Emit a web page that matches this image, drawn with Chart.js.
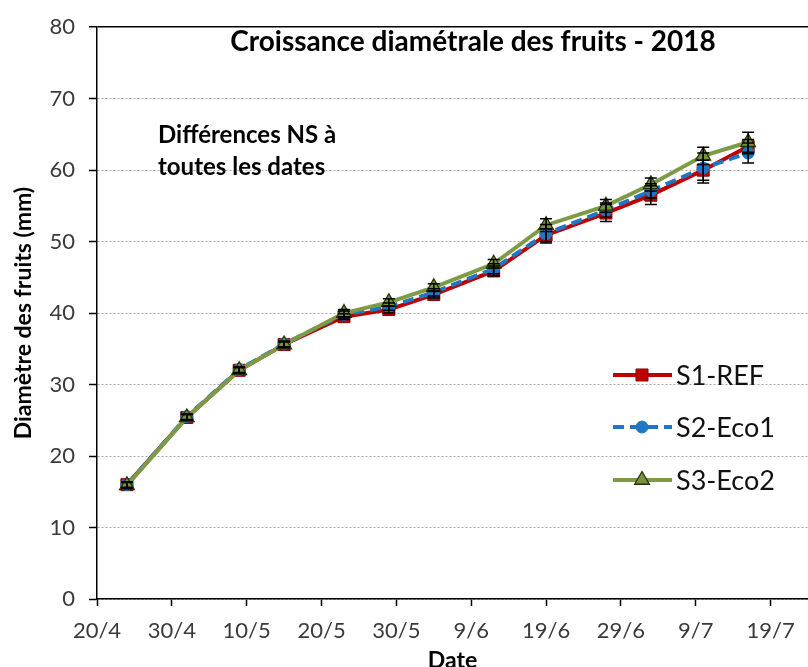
<!DOCTYPE html>
<html>
<head>
<meta charset="utf-8">
<script src="https://cdn.jsdelivr.net/npm/chart.js@4.4.1/dist/chart.umd.min.js"></script>
<style>
  html, body { margin: 0; padding: 0; background: #fff; overflow: hidden; }
  #wrap { width: 808px; height: 667px; position: relative; }
</style>
</head>
<body>
<div id="wrap"><canvas id="fruitChart"></canvas></div>
<script>
// Sampling dates (2018) and tick labels
const dates = ['24/4', '2/5', '9/5', '15/5', '23/5', '29/5', '4/6', '12/6', '19/6', '27/6', '3/7', '10/7', '16/7'];
const xTickLabels = ['20/4', '30/4', '10/5', '20/5', '30/5', '9/6', '19/6', '29/6', '9/7', '19/7'];

// Mean fruit diameter (mm)
const s1Ref = [16.0, 25.4, 32.0, 35.6, 39.5, 40.5, 42.6, 45.9, 50.9, 54.0, 56.5, 60.0, 63.3];
const s2Eco1 = [16.0, 25.5, 32.1, 35.7, 39.8, 40.9, 42.9, 46.2, 51.1, 54.4, 57.1, 60.3, 62.4];
const s3Eco2 = [15.9, 25.4, 32.0, 35.6, 40.0, 41.5, 43.6, 46.9, 52.3, 55.0, 58.0, 62.0, 63.9];

// Error bars (+/- mm)
const errS1 = [0.4, 0.4, 0.4, 0.4, 0.4, 0.5, 0.5, 0.7, 0.9, 1.2, 1.3, 1.4, 1.0];
const errS2 = [0.4, 0.4, 0.4, 0.4, 0.5, 0.5, 0.5, 0.7, 1.3, 1.0, 1.0, 2.1, 1.4];
const errS3 = [0.4, 0.4, 0.4, 0.4, 0.5, 0.5, 0.5, 0.6, 0.9, 0.9, 0.9, 1.2, 1.4];

// days since 20/4
const start = Date.UTC(2018, 3, 20);
const dayOf = (s) => {
    const [d, m] = s.split('/').map(Number);
    return (Date.UTC(2018, m - 1, d) - start) / 86400000;
};
const xs = dates.map(dayOf);
const pts = (arr) => arr.map((v, i) => ({ x: xs[i], y: v }));

const font = 'Lato, "Open Sans", sans-serif';
const colors = {
    red: '#c00000',
    blue: '#1f77c4',
    green: '#7d9a45',
    tick: '#3a3a3a',
    grid: '#a8a8a8'
};

const errorBars = {
    id: 'errorBars',
    afterDatasetsDraw(chart) {
        const { ctx, scales: { x, y } } = chart;
        const errs = [errS1, errS2, errS3];
        ctx.save();
        ctx.strokeStyle = '#000';
        ctx.lineWidth = 1.5;
        chart.data.datasets.forEach((ds, k) => {
            ds.data.forEach((p, i) => {
                const px = x.getPixelForValue(p.x);
                const top = y.getPixelForValue(p.y + errs[k][i]);
                const bot = y.getPixelForValue(p.y - errs[k][i]);
                ctx.beginPath();
                ctx.moveTo(px, top); ctx.lineTo(px, bot);
                ctx.moveTo(px - 6, top); ctx.lineTo(px + 6, top);
                ctx.moveTo(px - 6, bot); ctx.lineTo(px + 6, bot);
                ctx.stroke();
            });
        });
        ctx.restore();
    }
};

function drawMarker(ctx, style, r, x, y) {
    if (style === 'rect') {
        const s = Math.SQRT1_2 * r;
        ctx.rect(x - s, y - s, 2 * s, 2 * s);
    } else if (style === 'triangle') {
        ctx.moveTo(x, y - r);
        ctx.lineTo(x + Math.sin(2 * Math.PI / 3) * r, y - Math.cos(2 * Math.PI / 3) * r);
        ctx.lineTo(x + Math.sin(4 * Math.PI / 3) * r, y - Math.cos(4 * Math.PI / 3) * r);
        ctx.closePath();
    } else {
        ctx.arc(x, y, r, 0, Math.PI * 2);
    }
}

const annotations = {
    id: 'annotations',
    afterDraw(chart) {
        const { ctx, chartArea } = chart;
        ctx.save();
        ctx.fillStyle = '#000';
        ctx.textBaseline = 'alphabetic';

        // title inside plot area
        ctx.font = 'bold 28px ' + font;
        ctx.textAlign = 'center';
        ctx.fillText('Croissance diamétrale des fruits - 2018', 473, 51);

        // note
        ctx.font = 'bold 24px ' + font;
        ctx.textAlign = 'left';
        ctx.fillText('Différences NS à', 158, 143);
        ctx.fillText('toutes les dates', 158, 175);

        // axis titles
        ctx.font = 'bold 23px ' + font;
        ctx.textAlign = 'center';
        ctx.fillText('Date', (chartArea.left + chartArea.right) / 2, 668);
        ctx.save();
        ctx.translate(31, (chartArea.top + chartArea.bottom) / 2);
        ctx.rotate(-Math.PI / 2);
        ctx.fillText('Diamètre des fruits (mm)', 0, 0);
        ctx.restore();

        // legend
        const rows = [375, 427, 480];
        chart.data.datasets.forEach((ds, k) => {
            const yy = rows[k];
            ctx.save();
            ctx.strokeStyle = ds.borderColor;
            ctx.lineWidth = ds.borderWidth;
            ctx.setLineDash(ds.borderDash || []);
            ctx.beginPath();
            ctx.moveTo(613, yy); ctx.lineTo(672, yy);
            ctx.stroke();
            ctx.restore();
            ctx.fillStyle = ds.pointBackgroundColor;
            ctx.strokeStyle = ds.pointBorderColor;
            ctx.lineWidth = ds.pointBorderWidth;
            ctx.beginPath();
            drawMarker(ctx, ds.pointStyle, ds.pointRadius, 642, yy);
            ctx.fill(); ctx.stroke();
            ctx.fillStyle = '#111';
            ctx.font = '27px ' + font;
            ctx.textAlign = 'left';
            ctx.textBaseline = 'middle';
            ctx.fillText(ds.label, 676, yy + 1);
        });
        ctx.restore();
    }
};

const ctx = document.getElementById('fruitChart').getContext('2d');
new Chart(ctx, {
    type: 'line',
    data: {
        datasets: [
            {
                label: 'S1-REF', data: pts(s1Ref), order: 2,
                borderColor: colors.red, borderWidth: 4,
                pointStyle: 'rect', pointRadius: 8.5,
                pointBackgroundColor: colors.red, pointBorderColor: '#8a0000', pointBorderWidth: 1
            },
            {
                label: 'S2-Eco1', data: pts(s2Eco1), order: 1,
                borderColor: colors.blue, borderWidth: 4, borderDash: [11, 6],
                pointStyle: 'circle', pointRadius: 6,
                pointBackgroundColor: colors.blue, pointBorderColor: colors.blue, pointBorderWidth: 1
            },
            {
                label: 'S3-Eco2', data: pts(s3Eco2), order: 0,
                borderColor: colors.green, borderWidth: 4,
                pointStyle: 'triangle', pointRadius: 8.5,
                pointBackgroundColor: '#77933c', pointBorderColor: '#27330f', pointBorderWidth: 1.3
            }
        ]
    },
    plugins: [errorBars, annotations],
    options: {
        responsive: true,
        maintainAspectRatio: false,
        animation: false,
        layout: { autoPadding: false, padding: { top: 26, right: 0, left: 0, bottom: 0 } },
        plugins: {
            legend: { display: false },
            tooltip: { enabled: false }
        },
        scales: {
            x: {
                type: 'linear', min: 0, max: 95,
                afterFit: (s) => { s.height = 68; s.paddingRight = 0; s.paddingLeft = 0; },
                ticks: {
                    stepSize: 10, padding: 12, color: colors.tick, maxRotation: 0,
                    includeBounds: false, autoSkip: false,
                    font: { family: font, size: 22 },
                    callback: (v) => xTickLabels[v / 10] ?? ''
                },
                grid: { drawOnChartArea: false, drawTicks: true, tickLength: 7, tickColor: '#000', tickWidth: 1.5 },
                border: { color: '#000', width: 1.5 }
            },
            y: {
                min: 0, max: 80,
                afterFit: (s) => { s.width = 97; },
                ticks: {
                    stepSize: 10, padding: 14, color: colors.tick,
                    font: { family: font, size: 22 }
                },
                grid: {
                    color: (c) => (c.tick && c.tick.value === 80) ? '#000' : colors.grid,
                    lineWidth: (c) => (c.tick && c.tick.value === 80) ? 1.5 : 1,
                    tickLength: 8, tickColor: '#000', tickWidth: 1.5, tickBorderDash: []
                },
                border: {
                    color: '#000', width: 1.5,
                    dash: (c) => (c.tick && c.tick.value === 80) ? [] : [2, 2]
                }
            }
        }
    }
});
</script>
</body>
</html>
